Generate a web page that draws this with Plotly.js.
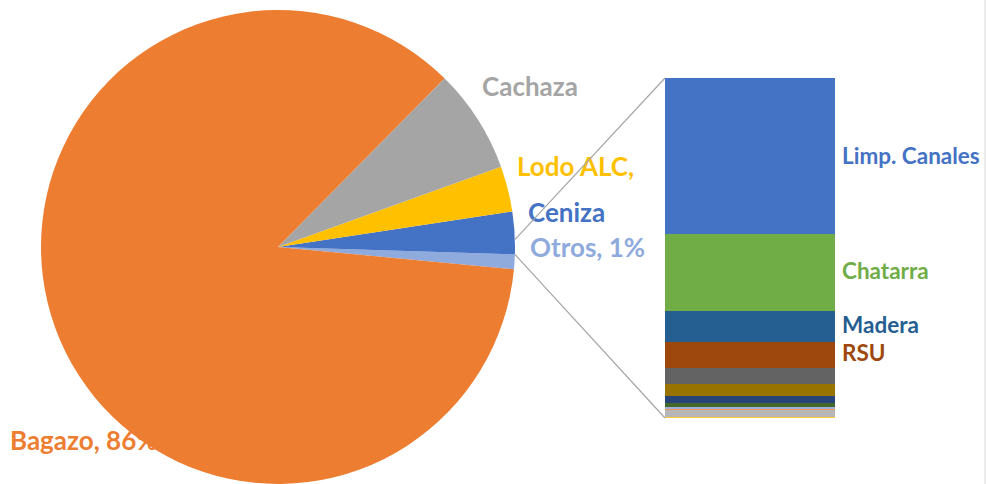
<!DOCTYPE html>
<html>
<head>
<meta charset="utf-8">
<script src="https://cdn.plot.ly/plotly-3.0.1.min.js"></script>
<style>html,body{margin:0;padding:0;background:#fff;}#chart{width:987px;height:484px;}</style>
</head>
<body>
<div id="chart"></div>
<script>
// Pie data (percent of total), counterclockwise from the "Otros" slice
const pieLabels = ["Otros", "Ceniza", "Lodo ALC", "Cachaza", "Bagazo"];
const pieValues = [1.0, 2.9, 3.1, 7.1, 85.9];
const pieColors = ["#8FAADC", "#4472C4", "#FFC000", "#A5A5A5", "#ED7D31"];
const pieText = ["Otros, 1%", "Ceniza", "Lodo ALC,", "Cachaza", "Bagazo, 86%"];

// Breakdown of "Otros" (percent of Otros), bottom to top
const barNames = ["Residuo L", "Residuo K", "Residuo J", "Residuo I", "Residuo H", "Residuo G",
                  "Residuo F", "Residuo E", "RSU", "Madera", "Chatarra", "Limp. Canales"];
const barValues = [0.3, 2.1, 0.3, 0.6, 1.2, 2.1, 3.5, 4.7, 7.6, 9.1, 22.6, 45.9];
const barColors = ["#FFCD33", "#B7B7B7", "#F1975A", "#9DB3DC", "#43682B", "#264478",
                   "#997300", "#636363", "#9E480E", "#255E91", "#70AD47", "#4472C4"];
const barLabelNames = ["Limp. Canales", "Chatarra", "Madera", "RSU"];

// Geometry (pixels)
const W = 987, H = 484;
const pieCx = 278, pieCy = 247, pieR = 237;
const barX0 = 665, barX1 = 835, barTop = 78, barBottom = 418;

const total = pieValues.reduce((a, b) => a + b, 0);
const halfAngle = pieValues[0] / total * 180; // degrees

const traces = [];
traces.push({
  type: "pie",
  labels: pieLabels,
  values: pieValues,
  sort: false,
  direction: "counterclockwise",
  rotation: 90 + halfAngle,
  marker: {colors: pieColors, line: {width: 0}},
  textinfo: "none",
  hoverinfo: "label+percent",
  domain: {x: [(pieCx - pieR) / W, (pieCx + pieR) / W], y: [(H - pieCy - pieR) / H, (H - pieCy + pieR) / H]},
  showlegend: false
});

for (let i = 0; i < barValues.length; i++) {
  traces.push({
    type: "bar",
    x: ["Otros"],
    y: [barValues[i]],
    name: barNames[i],
    marker: {color: barColors[i], line: {width: 0}},
    xaxis: "x", yaxis: "y",
    showlegend: false,
    hoverinfo: "name+y"
  });
}

// label positions (pixel coords on overlay axis)
const pieLabelPos = {
  "Otros, 1%": [530, 250],
  "Ceniza": [528, 215],
  "Lodo ALC,": [517, 169],
  "Cachaza": [482, 89],
  "Bagazo, 86%": [10, 443]
};
const barLabelPos = {
  "Limp. Canales": [842, 158],
  "Chatarra": [842, 273],
  "Madera": [842, 327],
  "RSU": [842, 355]
};

traces.push({
  type: "scatter", mode: "text",
  x: pieText.map(t => pieLabelPos[t][0]),
  y: pieText.map(t => pieLabelPos[t][1]),
  text: pieText,
  textposition: "middle right",
  textfont: {family: "Lato, 'Open Sans', sans-serif", size: 26, weight: 700, color: pieColors},
  xaxis: "x2", yaxis: "y2", showlegend: false, hoverinfo: "skip", cliponaxis: false
});

const barLabelColors = barLabelNames.map(n => barColors[barNames.indexOf(n)]);
traces.push({
  type: "scatter", mode: "text",
  x: barLabelNames.map(t => barLabelPos[t][0]),
  y: barLabelNames.map(t => barLabelPos[t][1]),
  text: barLabelNames,
  textposition: "middle right",
  textfont: {family: "Lato, 'Open Sans', sans-serif", size: 22.5, weight: 700, color: barLabelColors},
  xaxis: "x2", yaxis: "y2", showlegend: false, hoverinfo: "skip", cliponaxis: false
});

const rad = halfAngle * Math.PI / 180;
const pTopX = pieCx + pieR * Math.cos(rad), pTopY = pieCy - pieR * Math.sin(rad);
const pBotX = pieCx + pieR * Math.cos(rad), pBotY = pieCy + pieR * Math.sin(rad);
const px = x => x / W, py = y => (H - y) / H;

const layout = {
  width: W, height: H,
  margin: {l: 0, r: 0, t: 0, b: 0},
  paper_bgcolor: "#ffffff", plot_bgcolor: "rgba(0,0,0,0)",
  barmode: "stack", bargap: 0,
  showlegend: false,
  xaxis: {domain: [barX0 / W, barX1 / W], type: "category", range: [-0.5, 0.5], visible: false, fixedrange: true},
  yaxis: {domain: [(H - barBottom) / H, (H - barTop) / H], range: [0, 100], visible: false, fixedrange: true},
  xaxis2: {domain: [0, 1], range: [0, W], visible: false, anchor: "y2", fixedrange: true},
  yaxis2: {domain: [0, 1], range: [H, 0], visible: false, anchor: "x2", fixedrange: true},
  shapes: [
    {type: "line", xref: "paper", yref: "paper", x0: px(pTopX), y0: py(pTopY), x1: px(barX0), y1: py(barTop),
     line: {color: "#A6A6A6", width: 1.2}},
    {type: "line", xref: "paper", yref: "paper", x0: px(pBotX), y0: py(pBotY), x1: px(barX0), y1: py(barBottom),
     line: {color: "#A6A6A6", width: 1.2}},
    {type: "line", xref: "paper", yref: "paper", x0: px(985), y0: 0, x1: px(985), y1: 1, layer: "below",
     line: {color: "#D9D9D9", width: 1}}
  ]
};

Plotly.newPlot("chart", traces, layout, {displayModeBar: false, staticPlot: true});
</script>
</body>
</html>
